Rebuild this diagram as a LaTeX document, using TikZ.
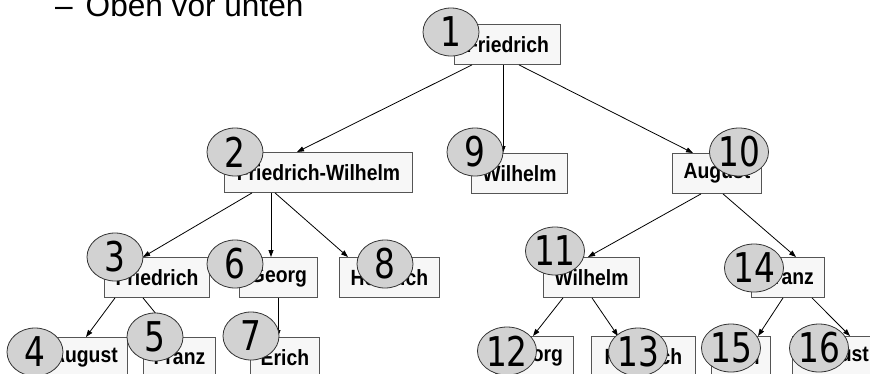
\documentclass[tikz,border=0pt]{standalone}
\usepackage{fontspec}
\setmainfont{Liberation Sans}
\newfontfamily\boxfont[FakeStretch=0.88]{Liberation Sans}
\newfontfamily\numfont[FakeStretch=0.8]{DejaVu Sans}
\usetikzlibrary{arrows.meta,shapes.geometric,calc}
\definecolor{boxfill}{HTML}{F7F7F7}
\definecolor{boxline}{HTML}{555555}
\definecolor{numfill}{HTML}{D2D2D2}
\definecolor{numline}{HTML}{333333}
\begin{document}
\begin{tikzpicture}[x=1pt,y=-1pt,
  person/.style={draw=boxline,line width=0.9pt,fill=boxfill,inner sep=0pt,
    anchor=north west,minimum height=40pt,
    font=\boxfont\bfseries\fontsize{22}{22}\selectfont},
  order/.style={ellipse,draw=numline,line width=0.8pt,fill=numfill,inner sep=0pt,
    minimum width=56pt,minimum height=48pt,
    font=\numfont\fontsize{41}{41}\selectfont},
  link/.style={draw=black,line width=0.8pt,-{Triangle[length=7pt,width=5pt]}},
  heading/.style={inner sep=0pt,anchor=base west,font=\fontsize{31.6}{32}\selectfont}]
\useasboundingbox (0,0) rectangle (870,373);
\clip (0,0) rectangle (870,373);

% heading line
\node[heading] (dash) at (55,16) {–};
\node[heading] (head) at (85.5,16) {Oben vor unten};

% family tree boxes
\node[person,minimum width=106pt] (b1)  at (454,24)  {Friedrich};
\node[person,minimum width=188pt] (b2)  at (224,152) {Friedrich-Wilhelm};
\node[person,minimum width=96pt]  (b9)  at (471,153) {Wilhelm};
\node[person,minimum width=89pt]  (b10) at (672,153) {August};
\node[person,minimum width=105pt] (b3)  at (104,257) {Friedrich};
\node[person,minimum width=78pt]  (b6)  at (239,257) {Georg};
\node[person,minimum width=100pt] (b8)  at (339,257) {Heinrich};
\node[person,minimum width=96pt]  (b11) at (543,257) {Wilhelm};
\node[person,minimum width=73pt]  (b14) at (751,257) {Franz};
\node[person,minimum width=86pt]  (b4)  at (41,337)  {August};
\node[person,minimum width=72pt]  (b5)  at (143,337) {Franz};
\node[person,minimum width=69pt]  (b7)  at (250,337) {Erich};
\node[person,minimum width=78pt]  (b12) at (495,336) {Georg};
\node[person,minimum width=104pt] (b13) at (591,336) {Heinrich};
\node[person,minimum width=59pt]  (b15) at (711,336) {Karl};
\node[person,minimum width=86pt]  (b16) at (792,336) {August};

% parent-child links
\draw[link] ($(b1.south west)+(18,0)$)  -- ($(b2.north west)+(73,0)$);
\draw[link] ($(b1.south west)+(49,0)$)  -- ($(b9.north west)+(32,0)$);
\draw[link] ($(b1.south west)+(65,0)$)  -- ($(b10.north west)+(21,0)$);
\draw[link] ($(b2.south west)+(28,0)$)  -- ($(b3.north west)+(39,0)$);
\draw[link] ($(b2.south west)+(47,0)$)  -- ($(b6.north west)+(32,0)$);
\draw[link] ($(b2.south west)+(51,0)$)  -- ($(b8.north west)+(9,0)$);
\draw[link] ($(b3.south west)+(11,0)$)  -- ($(b4.north west)+(45,0)$);
\draw[link] ($(b3.south west)+(39,0)$)  -- ($(b5.north west)+(32,0)$);
\draw[link] ($(b6.south west)+(39,0)$)  -- ($(b7.north west)+(28,0)$);
\draw[link] ($(b10.south west)+(29,0)$) -- ($(b11.north west)+(45,0)$);
\draw[link] ($(b10.south west)+(51,0)$) -- ($(b14.north west)+(45,0)$);
\draw[link] ($(b11.south west)+(20,0)$) -- ($(b12.north west)+(38,0)$);
\draw[link] ($(b11.south west)+(49,0)$) -- ($(b13.north west)+(27,0)$);
\draw[link] ($(b14.south west)+(32,0)$) -- ($(b15.north west)+(47,0)$);
\draw[link] ($(b14.south west)+(61,0)$) -- ($(b16.north west)+(58,0)$);

% visiting order markers
\node[order] (c1)  at (451,32)  {1};
\node[order] (c2)  at (235,152) {2};
\node[order] (c3)  at (115,257) {3};
\node[order] (c4)  at (35,352)  {4};
\node[order] (c5)  at (155,337) {5};
\node[order] (c6)  at (235,264) {6};
\node[order] (c7)  at (251,336) {7};
\node[order] (c8)  at (385,264) {8};
\node[order] (c9)  at (475,152) {9};
\node[order] (c10) at (739,152) {10};
\node[order] (c11) at (555,251) {11};
\node[order] (c12) at (507,351) {12};
\node[order] (c13) at (638,352) {13};
\node[order] (c14) at (754,268) {14};
\node[order] (c15) at (731,348) {15};
\node[order] (c16) at (819,348) {16};
\end{tikzpicture}
\end{document}
